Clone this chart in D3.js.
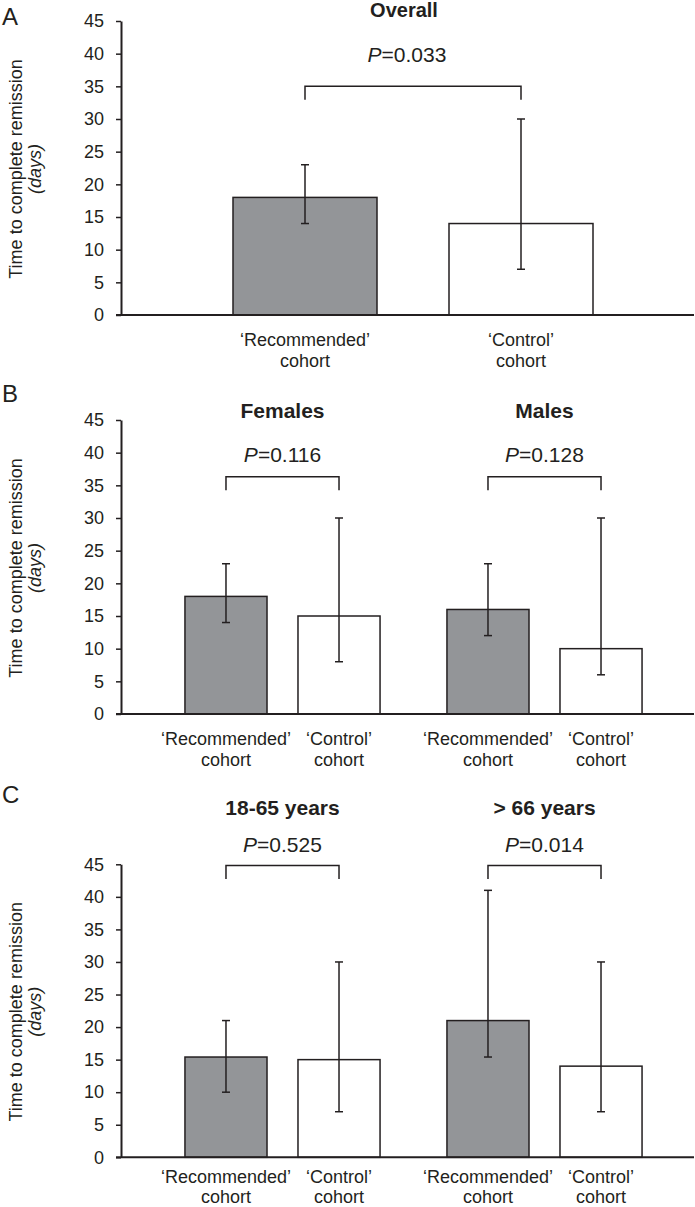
<!DOCTYPE html>
<html>
<head>
<meta charset="utf-8">
<script src="https://cdn.jsdelivr.net/npm/d3@7"></script>
<style>
  html, body { margin: 0; padding: 0; background: #fff; }
  svg { display: block; }
  text { font-family: "Liberation Sans", Arial, Helvetica, sans-serif; fill: #231f20; }
</style>
</head>
<body>
<svg id="chart" width="695" height="1207"></svg>
<script>
// ---------------- DATA ----------------
const panelLetters = ["A", "B", "C"];
const cohortLabels = [["\u2018Recommended\u2019", "cohort"], ["\u2018Control\u2019", "cohort"]];
const cohortKeys = ["recommended", "control"];
const yTickValues = [0, 5, 10, 15, 20, 25, 30, 35, 40, 45];
const yTitleLine1 = "Time to complete remission";
const yTitleLine2 = "(days)";

const groupTitlesA = ["Overall"];
const groupTitlesB = ["Females", "Males"];
const groupTitlesC = ["18-65 years", "> 66 years"];

const pValuesA = ["0.033"];
const pValuesB = ["0.116", "0.128"];
const pValuesC = ["0.525", "0.014"];

const recommendedA = [18];
const controlA = [14];
const recLowA = [14], recHighA = [23];
const ctrlLowA = [7], ctrlHighA = [30];

const recommendedB = [18, 16];
const controlB = [15, 10];
const recLowB = [14, 12], recHighB = [23, 23];
const ctrlLowB = [8, 6], ctrlHighB = [30, 30];

const recommendedC = [15.4, 21];
const controlC = [15, 14];
const recLowC = [10, 15.4], recHighC = [21, 41];
const ctrlLowC = [7, 7], ctrlHighC = [30, 30];

const bracketTopA = [35];
const bracketTopB = [36.3];
const bracketTopC = [44.8];

// ---------------- LAYOUT / STYLE ----------------
const INK = "#231f20";
const GRAY = "#939598";
const axisX = 121, axisRight = 694;
const layouts = [
  { y0: 315, y45: 21, letterY: 25, groupRange: [197, 629], pIn: 1/3, pOut: 1/6,
    titleY: 17, titleSize: 20, pY: 62, titleDx: -9, pDx: -6, lab1: 31, lab2: 51.5 },
  { y0: 714, y45: 420, letterY: 402, groupRange: [151.5, 675.5], pIn: 0.274, pOut: 0.296,
    titleY: 418, titleSize: 21, pY: 461.7, titleDx: 0, pDx: 0, lab1: 31, lab2: 51.5 },
  { y0: 1157.3, y45: 864.3, letterY: 803, groupRange: [151.5, 675.5], pIn: 0.274, pOut: 0.296,
    titleY: 815, titleSize: 21, pY: 851.7, titleDx: 0, pDx: 0, lab1: 25.4, lab2: 45.7 }
];

const panelData = [
  { titles: groupTitlesA, p: pValuesA, rec: recommendedA, ctrl: controlA,
    recLow: recLowA, recHigh: recHighA, ctrlLow: ctrlLowA, ctrlHigh: ctrlHighA, bracket: bracketTopA },
  { titles: groupTitlesB, p: pValuesB, rec: recommendedB, ctrl: controlB,
    recLow: recLowB, recHigh: recHighB, ctrlLow: ctrlLowB, ctrlHigh: ctrlHighB, bracket: bracketTopB },
  { titles: groupTitlesC, p: pValuesC, rec: recommendedC, ctrl: controlC,
    recLow: recLowC, recHigh: recHighC, ctrlLow: ctrlLowC, ctrlHigh: ctrlHighC, bracket: bracketTopC }
];

const svg = d3.select("#chart");

panelData.forEach((pd, i) => {
  const L = layouts[i];
  const g = svg.append("g");

  const y = d3.scaleLinear().domain([0, 45]).range([L.y0, L.y45]);
  const xGroup = d3.scaleBand().domain(pd.titles).range(L.groupRange).padding(0);
  const xInner = d3.scaleBand().domain(cohortKeys).range([0, xGroup.bandwidth()])
    .paddingInner(L.pIn).paddingOuter(L.pOut);

  // panel letter
  g.append("text").attr("x", 2).attr("y", L.letterY)
    .style("font-size", "24px").text(panelLetters[i]);

  // y axis title
  const yMid = (L.y0 + L.y45) / 2 + 1;
  g.append("text")
    .attr("transform", `translate(22,${yMid}) rotate(-90)`)
    .attr("text-anchor", "middle").style("font-size", "18px").text(yTitleLine1);
  g.append("text")
    .attr("transform", `translate(41,${yMid}) rotate(-90)`)
    .attr("text-anchor", "middle").style("font-size", "18px").style("font-style", "italic")
    .text(yTitleLine2);

  // records
  const recs = [];
  pd.titles.forEach((t, j) => {
    recs.push({ group: t, key: "recommended", v: pd.rec[j], lo: pd.recLow[j], hi: pd.recHigh[j] });
    recs.push({ group: t, key: "control", v: pd.ctrl[j], lo: pd.ctrlLow[j], hi: pd.ctrlHigh[j] });
  });
  const cx = d => xGroup(d.group) + xInner(d.key) + xInner.bandwidth() / 2;

  // bars
  g.selectAll("rect.bar").data(recs).enter().append("rect")
    .attr("class", "bar")
    .attr("x", d => xGroup(d.group) + xInner(d.key))
    .attr("width", xInner.bandwidth())
    .attr("y", d => y(d.v))
    .attr("height", d => y(0) - y(d.v))
    .attr("fill", d => d.key === "recommended" ? GRAY : "#fff")
    .attr("stroke", INK).attr("stroke-width", 1.5);

  // error bars
  const cap = 4;
  const eb = g.selectAll("g.eb").data(recs).enter().append("g").attr("class", "eb")
    .attr("stroke", INK).attr("stroke-width", 1.5);
  eb.append("line").attr("x1", cx).attr("x2", cx).attr("y1", d => y(d.lo)).attr("y2", d => y(d.hi));
  eb.append("line").attr("x1", d => cx(d) - cap).attr("x2", d => cx(d) + cap)
    .attr("y1", d => y(d.hi)).attr("y2", d => y(d.hi));
  eb.append("line").attr("x1", d => cx(d) - cap).attr("x2", d => cx(d) + cap)
    .attr("y1", d => y(d.lo)).attr("y2", d => y(d.lo));

  // y axis
  const yAxis = d3.axisLeft(y).tickValues(yTickValues).tickSize(5).tickSizeOuter(0).tickPadding(12);
  const ya = g.append("g").attr("transform", `translate(${axisX},0)`).call(yAxis);
  ya.select(".domain").attr("stroke", INK).attr("stroke-width", 2);
  ya.selectAll(".tick line").attr("stroke", INK).attr("stroke-width", 1.5);
  ya.selectAll(".tick text").style("font-size", "18px").attr("fill", INK)
    .style("font-family", "'Liberation Sans', Arial, sans-serif");

  // x axis baseline
  g.append("line").attr("x1", axisX - 5).attr("x2", axisRight)
    .attr("y1", y(0)).attr("y2", y(0)).attr("stroke", INK).attr("stroke-width", 2);

  // category labels (two separate lines)
  const labG = g.selectAll("g.cat").data(recs).enter().append("g").attr("class", "cat");
  labG.append("text").attr("text-anchor", "middle").style("font-size", "18px")
    .attr("x", cx).attr("y", y(0) + L.lab1)
    .text(d => cohortLabels[cohortKeys.indexOf(d.key)][0]);
  labG.append("text").attr("text-anchor", "middle").style("font-size", "18px")
    .attr("x", cx).attr("y", y(0) + L.lab2)
    .text(d => cohortLabels[cohortKeys.indexOf(d.key)][1]);

  // group titles, brackets, p-values
  pd.titles.forEach((t, j) => {
    const gc = xGroup(t) + xGroup.bandwidth() / 2;
    g.append("text").attr("x", gc + L.titleDx).attr("y", L.titleY)
      .attr("text-anchor", "middle").style("font-size", L.titleSize + "px")
      .style("font-weight", "bold").text(t);
    const pt = g.append("text").attr("x", gc + L.pDx).attr("y", L.pY)
      .attr("text-anchor", "middle").style("font-size", "21px");
    pt.append("tspan").style("font-style", "italic").text("P");
    pt.append("tspan").text("=" + pd.p[j]);

    const xa = xGroup(t) + xInner("recommended") + xInner.bandwidth() / 2;
    const xb = xGroup(t) + xInner("control") + xInner.bandwidth() / 2;
    const yt = y(pd.bracket[0]);
    g.append("path")
      .attr("d", `M${xa},${yt + 13.5}V${yt}H${xb}V${yt + 13.5}`)
      .attr("fill", "none").attr("stroke", INK).attr("stroke-width", 1.5);
  });
});
</script>
</body>
</html>
